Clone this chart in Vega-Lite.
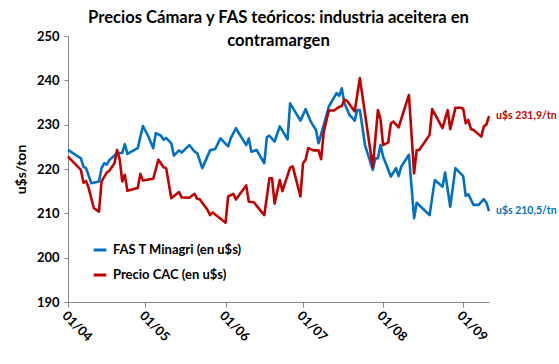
{
  "$schema": "https://vega.github.io/schema/vega-lite/v6.json",
  "autosize": "none",
  "width": 421,
  "height": 266,
  "padding": {"left": 68, "top": 36, "right": 70, "bottom": 62},
  "background": "white",
  "title": {
    "text": ["Precios Cámara y FAS teóricos: industria aceitera en", "contramargen"],
    "font": "Lato",
    "fontSize": 16.6,
    "fontWeight": "bold",
    "color": "#000000",
    "anchor": "middle",
    "lineHeight": 23,
    "offset": 8,
    "dy": 28
  },
  "datasets": {
    "fas": [
      {"d":"2009-04-01","v":224.3},{"d":"2009-04-06","v":222.4},{"d":"2009-04-07","v":220.5},{"d":"2009-04-08","v":220.2},
      {"d":"2009-04-10","v":216.8},{"d":"2009-04-13","v":217.2},{"d":"2009-04-14","v":220.2},{"d":"2009-04-15","v":221.3},
      {"d":"2009-04-16","v":221.0},{"d":"2009-04-17","v":222.0},{"d":"2009-04-20","v":223.6},{"d":"2009-04-22","v":223.6},
      {"d":"2009-04-23","v":225.6},{"d":"2009-04-24","v":223.4},{"d":"2009-04-28","v":224.7},{"d":"2009-04-30","v":229.7},
      {"d":"2009-05-02","v":227.5},{"d":"2009-05-04","v":224.7},{"d":"2009-05-05","v":228.1},{"d":"2009-05-07","v":227.5},
      {"d":"2009-05-08","v":226.6},{"d":"2009-05-09","v":227.0},{"d":"2009-05-11","v":225.8},{"d":"2009-05-12","v":223.0},
      {"d":"2009-05-14","v":224.2},{"d":"2009-05-15","v":223.7},{"d":"2009-05-18","v":225.4},{"d":"2009-05-20","v":223.9},
      {"d":"2009-05-21","v":223.6},{"d":"2009-05-23","v":220.2},{"d":"2009-05-26","v":224.2},{"d":"2009-05-28","v":224.5},
      {"d":"2009-05-30","v":226.9},{"d":"2009-06-02","v":225.1},{"d":"2009-06-03","v":226.9},{"d":"2009-06-05","v":229.2},
      {"d":"2009-06-09","v":225.4},{"d":"2009-06-10","v":226.9},{"d":"2009-06-11","v":223.9},{"d":"2009-06-13","v":224.3},
      {"d":"2009-06-16","v":221.3},{"d":"2009-06-17","v":227.2},{"d":"2009-06-18","v":227.5},{"d":"2009-06-20","v":226.2},
      {"d":"2009-06-22","v":229.6},{"d":"2009-06-25","v":226.7},{"d":"2009-06-26","v":234.8},{"d":"2009-06-30","v":230.9},
      {"d":"2009-07-02","v":233.5},{"d":"2009-07-04","v":230.7},{"d":"2009-07-06","v":228.8},{"d":"2009-07-07","v":225.8},
      {"d":"2009-07-11","v":234.1},{"d":"2009-07-14","v":237.1},{"d":"2009-07-15","v":236.5},{"d":"2009-07-16","v":238.2},
      {"d":"2009-07-17","v":234.9},{"d":"2009-07-19","v":232.2},{"d":"2009-07-21","v":230.9},{"d":"2009-07-22","v":233.3},
      {"d":"2009-07-23","v":233.3},{"d":"2009-07-25","v":225.4},{"d":"2009-07-28","v":219.8},{"d":"2009-07-29","v":222.4},
      {"d":"2009-07-30","v":222.4},{"d":"2009-07-31","v":225.4},{"d":"2009-08-01","v":222.8},{"d":"2009-08-04","v":218.3},
      {"d":"2009-08-06","v":220.2},{"d":"2009-08-07","v":218.4},{"d":"2009-08-08","v":220.5},{"d":"2009-08-11","v":223.2},
      {"d":"2009-08-13","v":208.9},{"d":"2009-08-14","v":212.4},{"d":"2009-08-19","v":209.6},{"d":"2009-08-21","v":217.5},
      {"d":"2009-08-24","v":216.0},{"d":"2009-08-25","v":219.2},{"d":"2009-08-27","v":211.5},{"d":"2009-08-29","v":220.2},
      {"d":"2009-09-01","v":218.4},{"d":"2009-09-02","v":213.9},{"d":"2009-09-03","v":214.3},{"d":"2009-09-05","v":211.9},
      {"d":"2009-09-07","v":211.9},{"d":"2009-09-09","v":213.2},{"d":"2009-09-10","v":212.4},{"d":"2009-09-11","v":210.5}
    ],
    "cac": [
      {"d":"2009-04-01","v":222.8},{"d":"2009-04-06","v":219.8},{"d":"2009-04-07","v":216.9},{"d":"2009-04-08","v":217.3},
      {"d":"2009-04-09","v":215.7},{"d":"2009-04-11","v":211.2},{"d":"2009-04-13","v":210.4},{"d":"2009-04-14","v":217.2},
      {"d":"2009-04-16","v":219.2},{"d":"2009-04-17","v":219.6},{"d":"2009-04-19","v":221.3},{"d":"2009-04-20","v":224.3},
      {"d":"2009-04-21","v":222.2},{"d":"2009-04-22","v":217.2},{"d":"2009-04-23","v":218.7},{"d":"2009-04-24","v":215.1},
      {"d":"2009-04-28","v":215.7},{"d":"2009-04-29","v":218.9},{"d":"2009-04-30","v":217.4},{"d":"2009-05-04","v":217.8},
      {"d":"2009-05-06","v":222.1},{"d":"2009-05-08","v":220.4},{"d":"2009-05-09","v":220.2},{"d":"2009-05-11","v":213.4},
      {"d":"2009-05-14","v":214.8},{"d":"2009-05-15","v":213.6},{"d":"2009-05-18","v":213.5},{"d":"2009-05-20","v":214.4},
      {"d":"2009-05-21","v":213.3},{"d":"2009-05-22","v":213.2},{"d":"2009-05-25","v":210.8},{"d":"2009-05-26","v":209.6},
      {"d":"2009-05-27","v":210.2},{"d":"2009-05-29","v":209.3},{"d":"2009-06-01","v":207.9},{"d":"2009-06-02","v":213.8},
      {"d":"2009-06-04","v":214.4},{"d":"2009-06-05","v":213.1},{"d":"2009-06-09","v":216.3},{"d":"2009-06-10","v":212.6},
      {"d":"2009-06-12","v":212.5},{"d":"2009-06-14","v":211.0},{"d":"2009-06-16","v":209.6},{"d":"2009-06-18","v":217.9},
      {"d":"2009-06-19","v":217.9},{"d":"2009-06-20","v":212.2},{"d":"2009-06-22","v":217.5},{"d":"2009-06-23","v":215.0},
      {"d":"2009-06-26","v":220.3},{"d":"2009-06-27","v":220.6},{"d":"2009-06-30","v":213.8},{"d":"2009-07-01","v":221.3},
      {"d":"2009-07-02","v":222.1},{"d":"2009-07-03","v":224.7},{"d":"2009-07-05","v":224.2},{"d":"2009-07-07","v":224.2},
      {"d":"2009-07-08","v":222.2},{"d":"2009-07-09","v":228.4},{"d":"2009-07-11","v":233.2},{"d":"2009-07-13","v":233.2},
      {"d":"2009-07-15","v":234.0},{"d":"2009-07-16","v":234.2},{"d":"2009-07-17","v":235.6},{"d":"2009-07-18","v":235.4},
      {"d":"2009-07-21","v":233.0},{"d":"2009-07-23","v":240.5},{"d":"2009-07-28","v":220.4},{"d":"2009-07-30","v":233.3},
      {"d":"2009-07-31","v":231.2},{"d":"2009-08-01","v":225.4},{"d":"2009-08-03","v":226.0},{"d":"2009-08-04","v":230.3},
      {"d":"2009-08-05","v":230.7},{"d":"2009-08-07","v":229.4},{"d":"2009-08-11","v":236.7},{"d":"2009-08-13","v":219.0},
      {"d":"2009-08-14","v":224.3},{"d":"2009-08-15","v":224.3},{"d":"2009-08-19","v":227.7},{"d":"2009-08-20","v":233.5},
      {"d":"2009-08-24","v":229.2},{"d":"2009-08-26","v":233.3},{"d":"2009-08-27","v":229.0},{"d":"2009-08-29","v":233.8},
      {"d":"2009-08-31","v":233.8},{"d":"2009-09-01","v":233.6},{"d":"2009-09-02","v":230.3},{"d":"2009-09-03","v":231.1},
      {"d":"2009-09-04","v":229.0},{"d":"2009-09-05","v":228.8},{"d":"2009-09-08","v":227.3},{"d":"2009-09-09","v":229.6},
      {"d":"2009-09-10","v":230.0},{"d":"2009-09-11","v":231.9}
    ],
    "ends": [
      {"d":"2009-09-11","v":231.9,"s":"Precio CAC (en u$s)","label":"u$s 231,9/tn"},
      {"d":"2009-09-11","v":210.5,"s":"FAS T Minagri (en u$s)","label":"u$s 210,5/tn"}
    ]
  },
  "encoding": {
    "x": {
      "field": "d", "type": "temporal",
      "scale": {"type": "utc", "domain": [{"year": 2009, "month": 4, "date": 1, "utc": true}, {"year": 2009, "month": 9, "date": 11, "utc": true}], "nice": false},
      "axis": {
        "title": null, "format": "%d/%m", "grid": false,
        "values": [
          {"year": 2009, "month": 4, "date": 1, "utc": true},
          {"year": 2009, "month": 5, "date": 1, "utc": true},
          {"year": 2009, "month": 6, "date": 1, "utc": true},
          {"year": 2009, "month": 7, "date": 1, "utc": true},
          {"year": 2009, "month": 8, "date": 1, "utc": true},
          {"year": 2009, "month": 9, "date": 1, "utc": true}
        ],
        "labelAngle": 45, "labelAlign": "left", "labelBaseline": "top",
        "labelFont": "Lato", "labelFontSize": 13, "labelFontWeight": "bold", "labelColor": "#000000",
        "domainColor": "#868686", "tickColor": "#868686", "tickSize": 5, "labelPadding": 2,
        "labelOverlap": false, "labelFlush": false
      }
    },
    "y": {
      "field": "v", "type": "quantitative",
      "scale": {"domain": [190, 250], "nice": false, "zero": false},
      "axis": {
        "title": "u$s/ton", "values": [190, 200, 210, 220, 230, 240, 250], "grid": false,
        "labelFont": "Lato", "labelFontSize": 13, "labelFontWeight": "bold", "labelColor": "#000000",
        "titleFont": "Lato", "titleFontSize": 14, "titleFontWeight": "bold", "titleColor": "#000000",
        "titlePadding": 8,
        "domainColor": "#868686", "tickColor": "#868686", "tickSize": 4, "labelPadding": 5
      }
    },
    "color": {
      "field": "s", "type": "nominal",
      "scale": {"domain": ["FAS T Minagri (en u$s)", "Precio CAC (en u$s)"], "range": ["#0070C0", "#C00000"]},
      "legend": {
        "title": null, "orient": "none", "legendX": 24, "legendY": 206,
        "symbolType": "stroke", "symbolStrokeWidth": 3, "symbolSize": 160,
        "labelFont": "Lato", "labelFontSize": 13, "labelFontWeight": "bold", "labelColor": "#000000",
        "rowPadding": 10, "labelOffset": 5
      }
    }
  },
  "layer": [
    {
      "data": {"name": "fas"},
      "transform": [{"calculate": "'FAS T Minagri (en u$s)'", "as": "s"}],
      "mark": {"type": "line", "strokeWidth": 2.6, "strokeJoin": "round"}
    },
    {
      "data": {"name": "cac"},
      "transform": [{"calculate": "'Precio CAC (en u$s)'", "as": "s"}],
      "mark": {"type": "line", "strokeWidth": 2.6, "strokeJoin": "round"}
    },
    {
      "data": {"name": "ends"},
      "mark": {"type": "text", "align": "left", "baseline": "middle", "dx": 7, "font": "Lato", "fontSize": 10.5, "fontWeight": "bold"},
      "encoding": {"text": {"field": "label"}}
    }
  ],
  "config": {"view": {"stroke": null}}
}
